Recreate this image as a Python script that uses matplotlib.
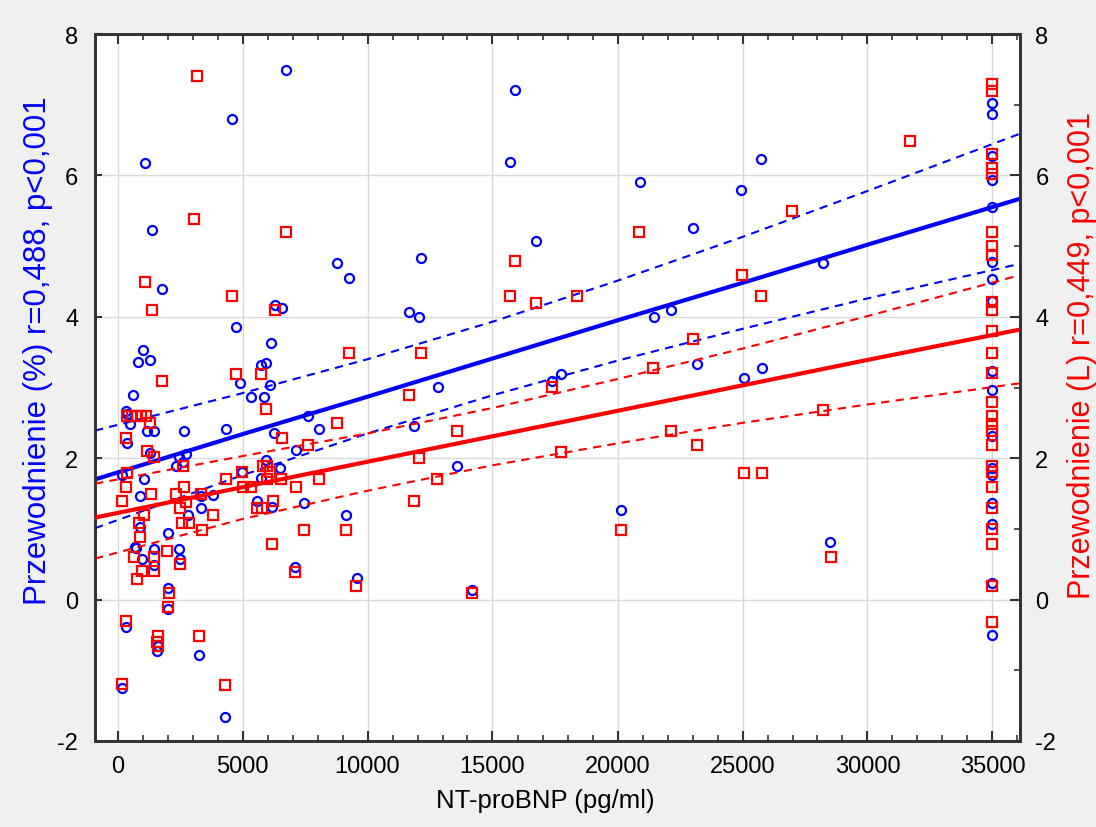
import numpy as np
import matplotlib
matplotlib.use("Agg")
import matplotlib.pyplot as plt
from matplotlib.ticker import MultipleLocator

plt.rcParams['font.family'] = ['Liberation Sans', 'DejaVu Sans']
plt.rcParams['axes.unicode_minus'] = False

# NT-proBNP (pg/ml) vs overhydration (%) - blue circles
blue_x = [6735, 15895, 4560, 1080, 15695, 20880, 25720, 24950, 23030, 16735,
          1360, 12135, 8760, 9270, 28240, 1760, 6280, 6575, 11640, 12040,
          21440, 22150, 4735, 6120, 1015, 800, 1295, 5750, 5920, 23175,
          25775, 25055, 17375, 17720, 12800, 4910, 6080, 600, 5320, 5855,
          335, 360, 7615, 480, 1175, 1440, 2640, 4335, 8055, 6255,
          11840, 375, 1310, 7135, 2470, 2720, 5920, 2350, 2615, 6495,
          13560, 160, 1040, 4975, 5750, 880, 3320, 3830, 5575, 7440,
          6190, 3350, 2830, 9135, 20120, 880, 2000, 28520, 680, 720,
          1455, 2470, 990, 2495, 1455, 7110, 9560, 2030, 14200, 2000,
          335, 1600, 1580, 3240, 175, 4310,
          35000, 35000, 35000, 35000, 35000, 35000, 35000, 35000, 35000,
          35000, 35000, 35000, 35000, 35000, 35000, 35000, 35000]
blue_y = [7.49, 7.21, 6.80, 6.18, 6.19, 5.90, 6.23, 5.79, 5.26, 5.07,
          5.23, 4.83, 4.76, 4.55, 4.76, 4.40, 4.16, 4.13, 4.07, 4.00,
          4.00, 4.09, 3.85, 3.63, 3.53, 3.36, 3.39, 3.32, 3.35, 3.33,
          3.27, 3.13, 3.09, 3.19, 3.01, 3.07, 3.03, 2.90, 2.86, 2.87,
          2.67, 2.63, 2.60, 2.49, 2.38, 2.38, 2.38, 2.41, 2.41, 2.36,
          2.45, 2.21, 2.08, 2.12, 2.01, 2.06, 1.98, 1.89, 1.95, 1.86,
          1.89, 1.76, 1.71, 1.80, 1.72, 1.46, 1.47, 1.48, 1.39, 1.36,
          1.31, 1.29, 1.20, 1.19, 1.27, 1.02, 0.94, 0.82, 0.74, 0.73,
          0.72, 0.71, 0.57, 0.58, 0.49, 0.46, 0.30, 0.17, 0.13, -0.14,
          -0.39, -0.65, -0.72, -0.79, -1.25, -1.66,
          7.02, 6.87, 6.27, 5.94, 5.56, 4.78, 4.54, 4.22, 3.24,
          2.97, 2.32, 1.86, 1.76, 1.37, 1.07, 0.23, -0.50]

# NT-proBNP (pg/ml) vs overhydration (L) - red squares
red_x = [3175, 3070, 6750, 1095, 4575, 1375, 6310, 9280, 1775, 4760,
         5760, 31700, 27000, 24975, 25750, 20880, 15910, 15710, 16750, 18390,
         12150, 23040, 21440, 17375, 11670, 13590, 12070, 12800, 11855, 17735,
         22160, 23190, 20135, 14200, 28240, 25080, 25790, 28535, 5935, 8775,
         6575, 7630, 5840, 5975, 6095, 4990, 5975, 6535, 8070, 7160,
         5015, 5350, 6240, 5600, 5800, 7455, 9150, 6200, 7110, 9560,
         380, 600, 800, 960, 1130, 1310, 350, 1200, 1470, 2640,
         400, 350, 1335, 2350, 2670, 3335, 190, 2735, 2510, 1080,
         3840, 2600, 2880, 880, 895, 3375, 680, 2000, 1455, 2520,
         1000, 1470, 775, 2055, 2015, 360, 1640, 1600, 1610, 3270,
         190, 4320, 4360,
         35000, 35000, 35000, 35000, 35000, 35000, 35000, 35000, 35000,
         35000, 35000, 35000, 35000, 35000, 35000, 35000, 35000, 35000,
         35000, 35000, 35000, 35000, 35000, 35000, 35000, 35000]
red_y = [7.40, 5.39, 5.20, 4.49, 4.29, 4.09, 4.09, 3.49, 3.09, 3.19,
         3.19, 6.49, 5.50, 4.59, 4.29, 5.20, 4.79, 4.29, 4.20, 4.29,
         3.49, 3.69, 3.28, 3.01, 2.89, 2.39, 2.00, 1.70, 1.39, 2.09,
         2.39, 2.19, 0.99, 0.09, 2.68, 1.79, 1.79, 0.60, 2.69, 2.50,
         2.29, 2.19, 1.89, 1.89, 1.80, 1.81, 1.70, 1.70, 1.70, 1.59,
         1.59, 1.59, 1.39, 1.29, 1.29, 0.99, 0.99, 0.79, 0.39, 0.19,
         2.60, 2.60, 2.60, 2.60, 2.60, 2.50, 2.29, 2.10, 2.01, 1.89,
         1.79, 1.59, 1.49, 1.49, 1.59, 1.50, 1.39, 1.38, 1.29, 1.20,
         1.20, 1.09, 1.09, 1.09, 0.89, 0.99, 0.60, 0.69, 0.60, 0.50,
         0.40, 0.40, 0.29, 0.10, -0.11, -0.30, -0.51, -0.60, -0.66, -0.51,
         -1.20, -1.21, 1.70,
         7.29, 7.19, 6.30, 6.10, 6.02, 5.20, 5.00, 4.88, 4.21,
         4.09, 3.80, 3.49, 3.20, 2.80, 2.60, 2.49, 2.39, 2.19,
         1.89, 1.80, 1.59, 1.29, 1.00, 0.79, 0.19, -0.31]

# regression lines with 95% confidence bands
fit_x = [-900, 5000, 10000, 15000, 20000, 25000, 30000, 36100]
blue_fit = [1.70, 2.34, 2.87, 3.41, 3.95, 4.48, 5.02, 5.67]
blue_hi = [2.39, 2.92, 3.40, 3.93, 4.51, 5.13, 5.78, 6.59]
blue_lo = [1.01, 1.76, 2.35, 2.89, 3.38, 3.83, 4.26, 4.75]
red_fit = [1.16, 1.59, 1.95, 2.31, 2.67, 3.03, 3.39, 3.82]
red_hi = [1.64, 2.03, 2.35, 2.71, 3.12, 3.55, 4.01, 4.59]
red_lo = [0.58, 1.14, 1.54, 1.90, 2.21, 2.50, 2.76, 3.06]

fig = plt.figure(figsize=(10.96, 8.28), dpi=100, facecolor='#f0f0f0')
ax = fig.add_axes((95 / 1096, 1 - 742 / 828, 925 / 1096, 707 / 828))
ax2 = ax.twinx()

ax.set_zorder(1)
ax2.set_zorder(2)
ax.set_facecolor('white')
ax2.patch.set_visible(False)

for a in (ax, ax2):
    a.set_xlim(-900, 36100)
    a.set_ylim(-2, 8)

ax.grid(True, color='#d9d9d9', lw=1)
ax.set_axisbelow(True)

ax.plot(blue_x, blue_y, 'o', ms=6.5, mfc='none', mec='#0000ff', mew=1.6, zorder=3)
ax.plot(fit_x, blue_fit, '-', color='#0000ff', lw=3, zorder=4)
ax.plot(fit_x, blue_hi, '--', color='#0000ff', lw=1.5, dashes=(4, 3), zorder=4)
ax.plot(fit_x, blue_lo, '--', color='#0000ff', lw=1.5, dashes=(4, 3), zorder=4)

ax2.plot(red_x, red_y, 's', ms=7.5, mfc='none', mec='#ff0000', mew=1.6, zorder=3)
ax2.plot(fit_x, red_fit, '-', color='#ff0000', lw=3, zorder=4)
ax2.plot(fit_x, red_hi, '--', color='#ff0000', lw=1.5, dashes=(4, 3), zorder=4)
ax2.plot(fit_x, red_lo, '--', color='#ff0000', lw=1.5, dashes=(4, 3), zorder=4)

ax.xaxis.set_major_locator(MultipleLocator(5000))
ax.xaxis.set_minor_locator(MultipleLocator(1000))
ax.yaxis.set_major_locator(MultipleLocator(2))
ax2.yaxis.set_major_locator(MultipleLocator(2))
ax2.yaxis.set_minor_locator(MultipleLocator(1))

ax.tick_params(axis='x', which='both', direction='in', top=True, bottom=True,
               labeltop=False, color='#333333', labelsize=17, pad=10)
ax.tick_params(axis='x', which='major', length=7, width=1.5)
ax.tick_params(axis='x', which='minor', length=4, width=1.2)
ax.tick_params(axis='y', which='major', direction='in', length=5, width=1.5,
               color='#333333', labelsize=17, pad=12)
ax2.tick_params(axis='y', which='major', direction='in', length=7, width=1.5,
                color='#333333', labelsize=17, pad=11)
ax2.tick_params(axis='y', which='minor', direction='in', length=4, width=1.2,
                color='#333333')

for a in (ax, ax2):
    for s in a.spines.values():
        s.set_color('#333333')
        s.set_linewidth(2)

ax.set_xlabel('NT-proBNP (pg/ml)', fontsize=18.5)
ax.xaxis.set_label_coords(0.487, -0.067)
ax.set_ylabel('Przewodnienie (%) r=0,488, p<0,001', fontsize=22.5,
              color='#0000ff')
ax2.set_ylabel('Przewodnienie (L) r=0,449, p<0,001', fontsize=22,
               color='#ff0000')
ax.yaxis.set_label_coords(-0.045, 0.554)
ax2.yaxis.set_label_coords(1.051, 0.547)

fig.savefig('out.png', dpi=100, facecolor=fig.get_facecolor())
